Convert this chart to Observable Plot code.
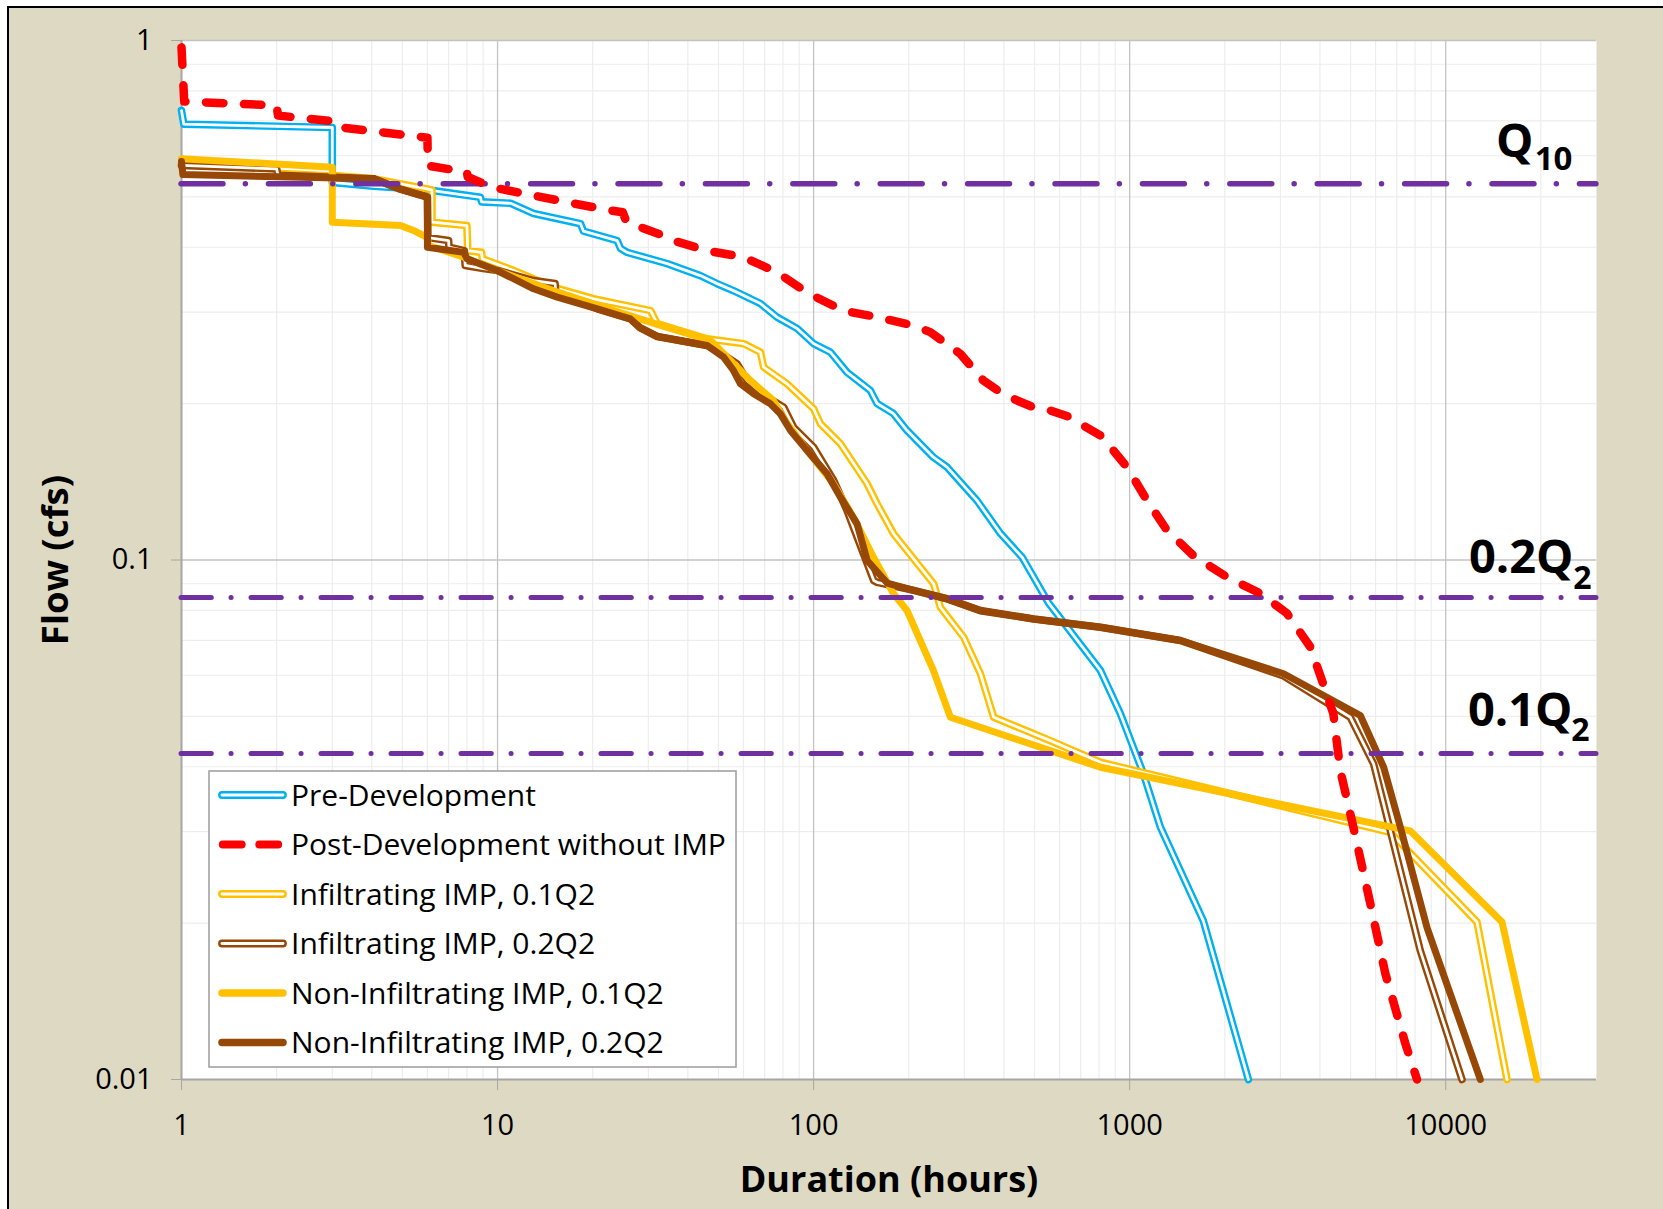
<!DOCTYPE html>
<html>
<head>
<meta charset="utf-8">
<script src="https://cdn.jsdelivr.net/npm/d3@7"></script>
<script src="https://cdn.jsdelivr.net/npm/@observablehq/plot@0.6"></script>
<style>
html, body { margin: 0; padding: 0; background: #ffffff; width: 1663px; height: 1209px; overflow: hidden; }
#bg { position: absolute; left: 7px; top: 6px; width: 1700px; height: 1300px; border: 2px solid #000; background: #DDD9C3; }
#chart { position: absolute; left: 0; top: 0; }
</style>
</head>
<body>
<div id="bg"></div>
<div id="chart"></div>
<script>
// ---------------- data (duration hours, flow cfs) ----------------
const seriesNames = [
  "Pre-Development",
  "Post-Development without IMP",
  "Infiltrating IMP, 0.1Q2",
  "Infiltrating IMP, 0.2Q2",
  "Non-Infiltrating IMP, 0.1Q2",
  "Non-Infiltrating IMP, 0.2Q2"
];

const preDev = [[1,0.733],[1.017,0.690],[3.0,0.680],[3.0,0.533],[4.06,0.524],[6.0,0.516],[8.83,0.499],[8.9,0.489],[11,0.486],[13,0.4645],[18.3,0.444],[18.7,0.4295],[23.9,0.412],[24.5,0.3977],[25.7,0.391],[34.4,0.372],[43.8,0.3528],[49.5,0.3404],[55.8,0.330],[67.9,0.3116],[76.6,0.2934],[88.7,0.279],[99.9,0.261],[113,0.2512],[127.6,0.2298],[151.2,0.212],[158.8,0.2001],[178.9,0.1914],[197.6,0.1775],[239.3,0.1577],[264.5,0.1509],[329,0.1301],[390,0.1125],[457.7,0.1011],[553,0.0828],[808,0.0613],[934.6,0.0506],[1105,0.0388],[1251,0.0306],[1711,0.0202],[2375,0.01]];

const postDev = [[1,0.97],[1.02,0.763],[2.0,0.75],[2.02,0.717],[2.95,0.70],[3.02,0.683],[6.0,0.650],[6.02,0.574],[8.0,0.558],[8.05,0.546],[8.83,0.533],[10.2,0.518],[13,0.503],[17.4,0.4857],[22.8,0.4709],[24.9,0.467],[25.6,0.447],[32.5,0.424],[36,0.412],[46,0.394],[60,0.3828],[76.6,0.358],[96.3,0.326],[124.3,0.302],[159,0.2934],[207,0.2828],[234,0.2745],[291.3,0.2493],[344.5,0.2216],[390,0.2104],[440.4,0.2028],[495.8,0.1968],[561,0.194],[649,0.1883],[713.9,0.1815],[825.6,0.1723],[888,0.1625],[981,0.1509],[1135,0.1302],[1313,0.114],[1590,0.102],[2033,0.0927],[2592,0.0862],[3148,0.0789],[3729,0.068],[4062,0.0586],[4411,0.0506],[4641,0.0393],[5103,0.0306],[5774,0.0218],[6441,0.016],[7452,0.01173],[8115,0.01]];

const inf01 = [[1,0.5797],[2.9,0.562],[3.03,0.5497],[4.05,0.5418],[6.0,0.518],[6.2,0.515],[6.2,0.447],[8.0,0.4404],[8.05,0.394],[8.9,0.391],[8.95,0.380],[11.25,0.3608],[15.0,0.335],[20.1,0.3183],[30.5,0.302],[32,0.285],[46.0,0.2666],[60.1,0.2608],[67.9,0.2512],[69.5,0.235],[82.4,0.2184],[100,0.1955],[105.1,0.1829],[121.6,0.1674],[147.7,0.1402],[158.8,0.1283],[179.2,0.1123],[239.9,0.09],[251.8,0.0811],[298.5,0.071],[337.2,0.0604],[371.5,0.0498],[561.2,0.0449],[808,0.0408],[6677,0.0299],[12560,0.0201],[15630,0.01]];

const inf02 = [[1,0.575],[2.0,0.566],[2.02,0.55],[4.06,0.5418],[4.86,0.5188],[6.0,0.4995],[6.02,0.4176],[7.0,0.412],[7.02,0.40],[7.85,0.394],[7.9,0.369],[9.0,0.364],[10,0.3608],[13.0,0.345],[15.2,0.3404],[15.3,0.326],[20.7,0.3045],[26.3,0.2913],[28.3,0.2797],[32,0.2693],[46,0.2588],[49.5,0.253],[57.3,0.2385],[61.6,0.2216],[71.3,0.2057],[80.4,0.1968],[86.5,0.180],[100,0.1649],[115.8,0.1422],[127.6,0.1245],[137.3,0.1107],[155,0.0913],[158.8,0.0906],[207.4,0.0874],[264.5,0.0842],[337.2,0.0799],[497,0.077],[808,0.0742],[1447,0.070],[3071,0.0598],[4992,0.0498],[5915,0.0405],[8310,0.0177],[11260,0.01]];

const nonInf01 = [[1,0.592],[3.0,0.5703],[3.0,0.447],[4.93,0.4404],[5.42,0.4308],[6.0,0.4176],[6.05,0.403],[7.82,0.3828],[9.97,0.3608],[13.0,0.3404],[15.0,0.330],[23.3,0.302],[32.8,0.2828],[47.2,0.2646],[55.8,0.2389],[63.1,0.2216],[74.6,0.2028],[82.4,0.1832],[95.4,0.1625],[115.5,0.1404],[133.6,0.1209],[154.6,0.1012],[178.9,0.0862],[197.6,0.0799],[239.3,0.0613],[270.9,0.0498],[808,0.0399],[7727,0.0301],[15070,0.0201],[19450,0.01]];

const nonInf02 = [[1,0.585],[1.01,0.552],[4.06,0.5418],[4.86,0.5188],[6.0,0.4995],[6.0,0.40],[7.82,0.391],[8.01,0.380],[9.97,0.3608],[13.0,0.3327],[15.44,0.3206],[20.7,0.3045],[26.3,0.2913],[28.3,0.2797],[32,0.2693],[46,0.2588],[51.9,0.2457],[55.8,0.2316],[58.7,0.2184],[64.6,0.2089],[73,0.1998],[78.5,0.1911],[84.5,0.1775],[95.4,0.1625],[110.3,0.1465],[121.6,0.1321],[137.3,0.1174],[147.7,0.0998],[170.9,0.0903],[207.4,0.0874],[264.5,0.0842],[337.2,0.0799],[497,0.077],[808,0.0742],[1447,0.070],[3071,0.0604],[5369,0.0502],[6364,0.0399],[7186,0.0306],[8728,0.0196],[12870,0.01]];

// reference flow thresholds
const refNames  = ["Q", "0.2Q", "0.1Q"];
const refSubs   = ["10", "2", "2"];
const refValues = [0.53, 0.0847, 0.0424];

// axis ticks
const xTicks = [1, 10, 100, 1000, 10000];
const yTicks = [0.01, 0.1, 1];
const xDomain = [1, 30000];
const yDomain = [0.01, 1];

// ---------------- styling ----------------
const BLUE = "#00B0F0", RED = "#FF0000", YELLOW = "#FFC000", BROWN = "#974706", PURPLE = "#7030A0";
const FONT = "'Open Sans', Lato, sans-serif";

const xMinor = [], yMinor = [];
for (const d of [1, 10, 100, 1000, 10000]) for (let m = 2; m <= 9; m++) if (d * m < 30000) xMinor.push(d * m);
for (const d of [0.01, 0.1]) for (let m = 2; m <= 9; m++) yMinor.push(+(d * m).toFixed(3));

const px = {x: d => d[0], y: d => d[1]};
const dbl = (data, color) => [
  Plot.line(data, {...px, stroke: color, strokeWidth: 7.6, strokeLinejoin: "round", strokeLinecap: "round"}),
  Plot.line(data, {...px, stroke: "white", strokeWidth: 2.8, strokeLinejoin: "round", strokeLinecap: "round"})
];
const refRows = refValues.map((v, i) => ({v, name: refNames[i], sub: refSubs[i]}));

const svg = Plot.plot({
  width: 1663,
  height: 1209,
  marginLeft: 181,
  marginRight: 67,
  marginTop: 40,
  marginBottom: 130,
  x: {type: "log", domain: xDomain},
  y: {type: "log", domain: yDomain},
  style: {background: "transparent", fontFamily: FONT, fontSize: "29px", color: "black", overflow: "visible"},
  marks: [
    Plot.frame({fill: "white"}),
    Plot.ruleX(xMinor, {stroke: "#ededed", strokeWidth: 1.2}),
    Plot.ruleY(yMinor, {stroke: "#ededed", strokeWidth: 1.2}),
    Plot.ruleX([10, 100, 1000, 10000], {stroke: "#c3c3c3", strokeWidth: 1.3}),
    Plot.ruleY([0.1, 1], {stroke: "#c3c3c3", strokeWidth: 1.3}),
    Plot.ruleX([1], {stroke: "#a6a6a6", strokeWidth: 2}),
    Plot.ruleY([0.01], {stroke: "#a6a6a6", strokeWidth: 2}),
    Plot.axisX({ticks: xTicks, tickFormat: d => String(d), tickSize: 11, tickPadding: 24, stroke: "#a6a6a6", fill: "black", fontSize: 29, label: null}),
    Plot.axisY({ticks: yTicks, tickFormat: d => String(d), tickSize: 10, tickPadding: 19, stroke: "#a6a6a6", fill: "black", fontSize: 29, label: null}),
    ...dbl(preDev, BLUE),
    ...dbl(inf01, YELLOW),
    ...dbl(inf02, BROWN),
    Plot.line(nonInf01, {...px, stroke: YELLOW, strokeWidth: 7, strokeLinejoin: "round", strokeLinecap: "round"}),
    Plot.line(nonInf02, {...px, stroke: BROWN, strokeWidth: 7, strokeLinejoin: "round", strokeLinecap: "round"}),
    Plot.ruleY([refValues[0]], {stroke: PURPLE, strokeWidth: 5.4, strokeDasharray: "42 22.3 0.1 23", strokeLinecap: "round"}),
    Plot.ruleY(refValues.slice(1), {stroke: PURPLE, strokeWidth: 5, strokeDasharray: "30.3 19.7 0.1 19.9", strokeLinecap: "round"}),
    Plot.line(postDev, {...px, stroke: RED, strokeWidth: 8.5, strokeDasharray: "17.5 20.5", strokeLinecap: "round", strokeLinejoin: "round"}),
    // threshold labels
    Plot.text([refRows[0]], {y: "v", text: "name", frameAnchor: "right", textAnchor: "end", lineAnchor: "bottom", dx: -63, dy: -27, fontSize: 47, fontWeight: "bold", fill: "black"}),
    Plot.text([refRows[0]], {y: "v", text: "sub", frameAnchor: "right", textAnchor: "end", lineAnchor: "bottom", dx: -24, dy: -14, fontSize: 33, fontWeight: "bold", fill: "black"}),
    Plot.text([refRows[1]], {y: "v", text: "name", frameAnchor: "right", textAnchor: "end", lineAnchor: "bottom", dx: -23, dy: -24, fontSize: 47, fontWeight: "bold", fill: "black"}),
    Plot.text([refRows[1]], {y: "v", text: "sub", frameAnchor: "right", textAnchor: "end", lineAnchor: "bottom", dx: -5, dy: -8, fontSize: 32, fontWeight: "bold", fill: "black"}),
    Plot.text([refRows[2]], {y: "v", text: "name", frameAnchor: "right", textAnchor: "end", lineAnchor: "bottom", dx: -24, dy: -28, fontSize: 47, fontWeight: "bold", fill: "black"}),
    Plot.text([refRows[2]], {y: "v", text: "sub", frameAnchor: "right", textAnchor: "end", lineAnchor: "bottom", dx: -7, dy: -13, fontSize: 32, fontWeight: "bold", fill: "black"}),
    // axis titles
    Plot.text(["Duration (hours)"], {text: d => d, frameAnchor: "bottom", textAnchor: "middle", lineAnchor: "bottom", dy: 112, fontSize: 36, fontWeight: "bold", fill: "black"}),
    Plot.text(["Flow (cfs)"], {text: d => d, frameAnchor: "left", textAnchor: "middle", lineAnchor: "bottom", rotate: -90, dx: -114, fontSize: 36.5, fontWeight: "bold", fill: "black"})
  ]
});

// ---------------- legend (drawn inside plot area) ----------------
const legendStyles = [
  {color: BLUE, kind: "double"},
  {color: RED, kind: "dash"},
  {color: YELLOW, kind: "double"},
  {color: BROWN, kind: "double"},
  {color: YELLOW, kind: "solid"},
  {color: BROWN, kind: "solid"}
];
const lg = d3.select(svg).append("g")
  .attr("font-family", FONT).attr("font-size", 30).attr("text-anchor", "start");
lg.append("rect").attr("x", 209).attr("y", 771).attr("width", 527).attr("height", 296)
  .attr("fill", "white").attr("stroke", "#9c9c9c").attr("stroke-width", 1.5);
seriesNames.forEach((name, i) => {
  const y = 795 + i * 49.5;
  const st = legendStyles[i];
  if (st.kind === "double") {
    lg.append("line").attr("x1", 222).attr("x2", 283).attr("y1", y).attr("y2", y)
      .attr("stroke", st.color).attr("stroke-width", 7.8).attr("stroke-linecap", "round");
    lg.append("line").attr("x1", 222).attr("x2", 283).attr("y1", y).attr("y2", y)
      .attr("stroke", "white").attr("stroke-width", 2.9).attr("stroke-linecap", "round");
  } else if (st.kind === "dash") {
    lg.append("line").attr("x1", 222.75).attr("x2", 278.25).attr("y1", y).attr("y2", y)
      .attr("stroke", st.color).attr("stroke-width", 7.8).attr("stroke-linecap", "round")
      .attr("stroke-dasharray", "19 17.5");
  } else {
    lg.append("line").attr("x1", 222).attr("x2", 283).attr("y1", y).attr("y2", y)
      .attr("stroke", st.color).attr("stroke-width", 7.5).attr("stroke-linecap", "round");
  }
  lg.append("text").attr("x", 291).attr("y", y + 10.5).attr("fill", "black").text(name);
});

document.getElementById("chart").appendChild(svg);
</script>
</body>
</html>
